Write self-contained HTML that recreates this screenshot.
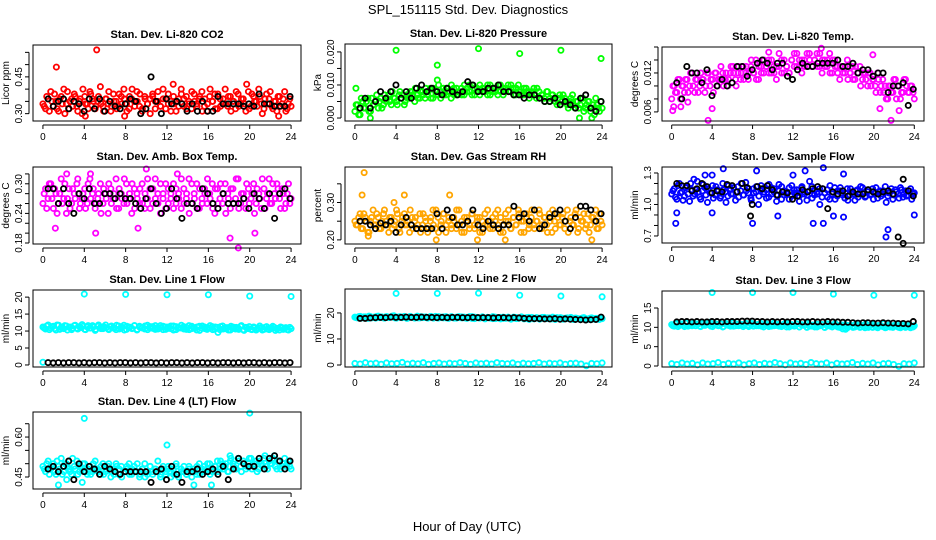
<!DOCTYPE html>
<html><head><meta charset="utf-8"><title>SPL_151115 Std. Dev. Diagnostics</title>
<style>
html,body{margin:0;padding:0;background:#fff;}
svg{display:block;font-family:"Liberation Sans",Arial,sans-serif;}
.pt{fill:none;stroke-width:1.8;}
</style></head>
<body>
<svg id="chart" width="936" height="540" viewBox="0 0 936 540">
<text x="468" y="14" text-anchor="middle" font-size="13">SPL_151115  Std. Dev. Diagnostics</text>
<text x="467" y="531" text-anchor="middle" font-size="13">Hour of Day (UTC)</text>
</svg>
<script>
// ---------- data ----------
const xTicks = [0,4,8,12,16,20,24];

const co2Vals = [0.34,0.32,0.36,0.39,0.33,0.35,0.31,0.37,0.40,0.34,0.32,0.36,0.38,0.33,0.35,0.30,0.37,0.34,0.39,0.36,0.32,0.35,0.41,0.33,0.36,0.34,0.31,0.38,0.35,0.33,0.37,0.40,0.34,0.32,0.36,0.35,0.39,0.33,0.31,0.37,0.34,0.36,0.38,0.32,0.35,0.33,0.40,0.36,0.34,0.31,0.37,0.35,0.33,0.38,0.36,0.32,0.34,0.39,0.35,0.33,0.37,0.31,0.36,0.34,0.40,0.35,0.32,0.38,0.33,0.36,0.34,0.37,0.31,0.35,0.39,0.33,0.36,0.34,0.42,0.32,0.38,0.35,0.33,0.37,0.30,0.36,0.34,0.39,0.32,0.35,0.37,0.33,0.36,0.31,0.34,0.33];
const co2Vals2 = [0.33,0.37,0.31,0.35,0.38,0.32,0.36,0.34,0.30,0.39,0.35,0.33,0.37,0.31,0.36,0.40,0.34,0.32,0.38,0.35,0.33,0.37,0.34,0.31,0.36,0.39,0.33,0.35,0.32,0.38,0.34,0.36,0.31,0.37,0.40,0.33,0.35,0.38,0.32,0.36,0.34,0.30,0.37,0.35,0.39,0.33,0.36,0.32,0.38,0.35,0.34,0.31,0.36,0.40,0.33,0.37,0.35,0.32,0.38,0.34,0.36,0.39,0.33,0.31,0.37,0.35,0.38,0.32,0.36,0.34,0.40,0.33,0.37,0.35,0.32,0.38,0.34,0.36,0.31,0.39,0.33,0.37,0.35,0.40,0.34,0.32,0.38,0.36,0.33,0.35,0.31,0.37,0.34,0.39,0.32,0.36];
const co2Black = [0.36,0.33,0.35,0.36,0.32,0.35,0.34,0.31,0.36,0.32,0.36,0.31,0.35,0.33,0.32,0.34,0.36,0.35,0.30,0.32,0.45,0.35,0.30,0.36,0.34,0.35,0.34,0.31,0.34,0.31,0.35,0.31,0.31,0.37,0.34,0.34,0.34,0.34,0.33,0.34,0.33,0.38,0.34,0.34,0.33,0.33,0.33,0.37];
const co2OutHours = [5.2,1.3,4.1,7.9,12.6,22.8];
const co2OutVals = [0.56,0.49,0.29,0.29,0.42,0.29];

const presVals = [0.002,0.004,0.001,0.005,0.003,0.006,0.002,0.004,0.005,0.003,0.006,0.004,0.005,0.007,0.004,0.006,0.005,0.007,0.006,0.004,0.007,0.006,0.008,0.005,0.007,0.006,0.008,0.006,0.007,0.009,0.006,0.008,0.007,0.006,0.009,0.007,0.008,0.006,0.009,0.007,0.008,0.009,0.007,0.008,0.010,0.007,0.009,0.008,0.007,0.009,0.008,0.010,0.007,0.009,0.008,0.010,0.008,0.007,0.009,0.008,0.010,0.007,0.009,0.008,0.007,0.009,0.008,0.006,0.008,0.007,0.009,0.006,0.007,0.005,0.008,0.006,0.007,0.005,0.006,0.004,0.007,0.005,0.003,0.006,0.004,0.005,0.003,0.006,0.002,0.004,0.005,0.003,0.001,0.004,0.002,0.003];
const presVals2 = [0.004,0.001,0.006,0.003,0.005,0.002,0.006,0.004,0.007,0.005,0.003,0.007,0.006,0.005,0.008,0.006,0.004,0.008,0.007,0.005,0.006,0.008,0.007,0.009,0.006,0.008,0.007,0.009,0.008,0.006,0.009,0.007,0.010,0.008,0.007,0.009,0.008,0.010,0.007,0.009,0.008,0.007,0.010,0.009,0.008,0.010,0.007,0.009,0.010,0.008,0.009,0.007,0.010,0.008,0.009,0.007,0.010,0.009,0.008,0.010,0.008,0.009,0.007,0.010,0.008,0.007,0.009,0.008,0.007,0.009,0.006,0.008,0.007,0.006,0.008,0.005,0.007,0.006,0.004,0.007,0.005,0.006,0.004,0.005,0.007,0.003,0.005,0.004,0.006,0.003,0.005,0.002,0.004,0.006,0.003,0.005];
const presBlack = [0.003,0.006,0.003,0.005,0.008,0.006,0.008,0.010,0.006,0.008,0.006,0.009,0.010,0.008,0.009,0.008,0.007,0.009,0.008,0.007,0.008,0.011,0.010,0.008,0.008,0.009,0.009,0.010,0.008,0.008,0.007,0.007,0.006,0.007,0.007,0.006,0.005,0.005,0.006,0.004,0.005,0.004,0.003,0.006,0.007,0.003,0.002,0.005];
const presOutHours = [4,12,16,20,23.9,8,8,0.1,1.5,21.8,23];
const presOutVals = [0.0205,0.021,0.0195,0.0205,0.018,0.016,0.0115,0.009,0.000,0.000,0.000];

const ltempVals = [0.008,0.010,0.009,0.011,0.010,0.009,0.011,0.010,0.012,0.009,0.011,0.010,0.011,0.009,0.012,0.010,0.011,0.012,0.010,0.011,0.012,0.011,0.010,0.012,0.013,0.011,0.012,0.011,0.013,0.012,0.011,0.013,0.012,0.014,0.011,0.013,0.012,0.013,0.014,0.012,0.013,0.011,0.013,0.014,0.012,0.013,0.012,0.014,0.013,0.015,0.013,0.014,0.013,0.015,0.014,0.013,0.014,0.013,0.015,0.014,0.013,0.014,0.012,0.014,0.013,0.012,0.013,0.012,0.013,0.011,0.012,0.011,0.013,0.012,0.010,0.012,0.011,0.012,0.010,0.011,0.009,0.011,0.010,0.009,0.008,0.010,0.009,0.011,0.008,0.010,0.009,0.011,0.010,0.009,0.010,0.008];
const ltempVals2 = [0.010,0.009,0.011,0.008,0.010,0.011,0.009,0.012,0.010,0.011,0.009,0.012,0.011,0.010,0.012,0.011,0.009,0.012,0.011,0.013,0.010,0.012,0.011,0.013,0.012,0.010,0.013,0.012,0.011,0.013,0.012,0.014,0.012,0.011,0.013,0.012,0.014,0.013,0.012,0.014,0.012,0.013,0.015,0.012,0.014,0.013,0.012,0.014,0.015,0.013,0.014,0.012,0.014,0.013,0.015,0.013,0.014,0.015,0.013,0.012,0.014,0.013,0.015,0.012,0.014,0.013,0.011,0.013,0.012,0.014,0.012,0.013,0.011,0.012,0.013,0.011,0.012,0.010,0.012,0.011,0.010,0.012,0.009,0.011,0.010,0.008,0.010,0.009,0.011,0.010,0.008,0.009,0.011,0.009,0.010,0.009];
const ltempBlack = [0.0105,0.008,0.013,0.012,0.012,0.0105,0.0125,0.0085,0.010,0.011,0.010,0.0105,0.013,0.013,0.0115,0.0125,0.0135,0.014,0.0135,0.0125,0.0135,0.0135,0.0115,0.011,0.0125,0.0135,0.013,0.013,0.0135,0.0135,0.0135,0.0135,0.014,0.013,0.013,0.0135,0.012,0.0125,0.0125,0.0115,0.012,0.012,0.009,0.010,0.010,0.0105,0.007,0.0095];
const ltempOutHours = [0.1,0.2,0.9,1.6,3.6,4.0,9.6,14.8,19.9,20.6,21.7,22.5];
const ltempOutVals = [0.0062,0.0068,0.0068,0.0075,0.0047,0.0065,0.0152,0.0158,0.0148,0.0065,0.0047,0.0062];

const ambVals = [0.26,0.29,0.27,0.30,0.25,0.28,0.26,0.31,0.27,0.24,0.29,0.26,0.28,0.30,0.25,0.27,0.29,0.26,0.31,0.28,0.25,0.27,0.30,0.26,0.28,0.24,0.29,0.27,0.31,0.25,0.28,0.26,0.30,0.27,0.24,0.29,0.28,0.26,0.30,0.25,0.27,0.29,0.26,0.31,0.28,0.24,0.27,0.30,0.26,0.28,0.25,0.29,0.27,0.31,0.26,0.28,0.24,0.30,0.27,0.25,0.29,0.26,0.28,0.31,0.27,0.25,0.29,0.26,0.30,0.28,0.24,0.27,0.29,0.26,0.31,0.25,0.28,0.27,0.30,0.26,0.28,0.24,0.29,0.27,0.31,0.25,0.28,0.26,0.30,0.27,0.29,0.25,0.28,0.26,0.30,0.27];
const ambVals2 = [0.28,0.25,0.30,0.27,0.29,0.24,0.28,0.26,0.30,0.27,0.25,0.29,0.27,0.31,0.26,0.28,0.25,0.30,0.27,0.29,0.26,0.28,0.24,0.29,0.27,0.30,0.26,0.28,0.25,0.29,0.27,0.31,0.26,0.28,0.30,0.25,0.27,0.29,0.26,0.28,0.31,0.25,0.29,0.27,0.26,0.30,0.28,0.25,0.29,0.27,0.30,0.26,0.28,0.25,0.29,0.27,0.31,0.26,0.28,0.30,0.25,0.27,0.29,0.26,0.28,0.30,0.24,0.29,0.27,0.26,0.30,0.28,0.25,0.29,0.27,0.31,0.26,0.28,0.25,0.29,0.27,0.30,0.26,0.28,0.25,0.29,0.27,0.31,0.26,0.28,0.30,0.27,0.29,0.25,0.28,0.26];
const ambBlack = [0.29,0.29,0.26,0.29,0.26,0.24,0.28,0.27,0.29,0.26,0.26,0.28,0.28,0.27,0.28,0.27,0.27,0.26,0.25,0.27,0.29,0.26,0.24,0.25,0.29,0.27,0.23,0.26,0.26,0.25,0.29,0.28,0.26,0.25,0.28,0.26,0.26,0.26,0.27,0.25,0.28,0.27,0.25,0.28,0.23,0.28,0.29,0.27];
const ambOutHours = [10,2.3,4.6,18.1,18.9,1.2,5.1,20.5,9.2,13.0];
const ambOutVals = [0.33,0.32,0.32,0.19,0.17,0.21,0.20,0.20,0.21,0.32];

const rhVals = [0.25,0.24,0.27,0.23,0.26,0.22,0.25,0.28,0.24,0.26,0.23,0.27,0.25,0.22,0.26,0.24,0.28,0.23,0.25,0.27,0.24,0.22,0.26,0.25,0.23,0.27,0.24,0.26,0.22,0.25,0.28,0.23,0.26,0.24,0.27,0.22,0.25,0.24,0.26,0.23,0.28,0.25,0.22,0.26,0.24,0.27,0.23,0.25,0.26,0.22,0.24,0.28,0.25,0.23,0.27,0.24,0.26,0.22,0.25,0.28,0.23,0.26,0.24,0.27,0.25,0.22,0.26,0.24,0.28,0.23,0.25,0.27,0.24,0.26,0.22,0.25,0.28,0.23,0.26,0.24,0.27,0.25,0.22,0.26,0.24,0.28,0.23,0.25,0.27,0.24,0.22,0.26,0.25,0.23,0.27,0.24];
const rhVals2 = [0.24,0.26,0.23,0.27,0.25,0.22,0.26,0.24,0.27,0.23,0.25,0.28,0.24,0.26,0.23,0.25,0.27,0.22,0.26,0.24,0.25,0.28,0.23,0.26,0.24,0.22,0.27,0.25,0.23,0.26,0.24,0.28,0.22,0.25,0.27,0.24,0.26,0.23,0.25,0.28,0.24,0.22,0.26,0.25,0.23,0.27,0.24,0.26,0.22,0.25,0.27,0.24,0.23,0.26,0.25,0.28,0.22,0.24,0.27,0.25,0.23,0.26,0.24,0.28,0.22,0.25,0.27,0.23,0.26,0.24,0.25,0.28,0.23,0.26,0.24,0.27,0.22,0.25,0.27,0.24,0.26,0.23,0.28,0.25,0.24,0.27,0.22,0.26,0.25,0.23,0.27,0.24,0.26,0.28,0.23,0.25];
const rhBlack = [0.25,0.25,0.24,0.23,0.245,0.24,0.25,0.22,0.24,0.26,0.24,0.23,0.23,0.23,0.23,0.27,0.23,0.28,0.26,0.24,0.24,0.25,0.28,0.24,0.23,0.25,0.24,0.23,0.24,0.24,0.29,0.26,0.27,0.25,0.28,0.23,0.24,0.26,0.27,0.28,0.25,0.23,0.26,0.29,0.29,0.28,0.25,0.27];
const rhOutHours = [0.9,0.7,4.8,3.8,7.9,9.2,14.6,23.0,11.9,1.3];
const rhOutVals = [0.38,0.32,0.32,0.30,0.20,0.32,0.20,0.20,0.20,0.21];

const flowVals = [1.10,1.15,1.05,1.20,1.12,1.08,1.17,1.03,1.14,1.10,1.22,1.07,1.13,1.16,1.02,1.11,1.18,1.09,1.14,1.06,1.20,1.12,1.08,1.15,1.10,1.04,1.17,1.13,1.09,1.21,1.11,1.06,1.15,1.12,1.00,1.18,1.10,1.14,1.07,1.16,1.12,1.09,1.19,1.05,1.13,1.10,1.16,1.08,1.14,1.11,1.03,1.17,1.12,1.09,1.22,1.06,1.14,1.10,1.00,1.15,1.11,1.07,1.18,1.12,1.05,1.13,1.16,1.09,1.11,1.04,1.15,1.10,1.13,1.07,1.17,1.11,1.08,1.14,1.10,1.05,1.16,1.12,1.08,1.13,1.02,1.11,1.15,1.09,1.12,1.06,1.14,1.10,1.08,1.13,1.05,1.11];
const flowVals2 = [1.13,1.07,1.18,1.11,1.04,1.16,1.10,1.20,1.08,1.14,1.12,1.05,1.19,1.09,1.15,1.11,1.06,1.17,1.13,1.08,1.14,1.02,1.18,1.10,1.16,1.12,1.07,1.20,1.09,1.13,1.15,1.04,1.11,1.17,1.08,1.14,1.12,1.06,1.19,1.10,1.15,1.03,1.13,1.17,1.09,1.12,1.05,1.18,1.11,1.14,1.08,1.16,1.10,1.04,1.13,1.17,1.09,1.12,1.15,1.07,1.11,1.14,1.05,1.10,1.16,1.08,1.13,1.11,1.06,1.15,1.09,1.12,1.04,1.14,1.10,1.16,1.07,1.12,1.09,1.15,1.11,1.06,1.13,1.10,1.17,1.08,1.12,1.05,1.14,1.10,1.16,1.07,1.13,1.09,1.15,1.10];
const flowBlack = [1.20,1.18,1.18,1.13,1.15,1.20,1.17,1.11,1.13,1.12,1.19,1.18,1.12,1.20,1.16,1.00,1.17,1.15,1.18,1.14,1.09,1.12,1.11,1.05,1.08,1.14,1.12,1.15,1.17,1.15,0.96,1.12,1.10,1.13,1.08,1.12,1.10,1.10,1.14,1.12,1.10,1.12,1.13,1.10,0.69,1.24,1.13,1.08];
const flowOutHours = [0.5,0.4,4,4,3.3,5.1,8,8.4,10.5,12,13.2,14,15,15,16,17,17,21.4,21.2,24,2.2];
const flowOutVals = [0.92,0.82,1.28,0.92,1.28,1.34,0.82,1.32,0.89,1.28,1.32,0.82,0.82,1.35,0.89,1.29,0.88,0.76,0.69,0.90,1.24];
const flowBlackOutHours = [22.9,7.8];
const flowBlackOutVals = [0.63,0.89];

const l1Band = [11.2,10.6,11.8,10.9,11.4,10.3,11.7,11.0,10.7,11.5,11.1,10.4,11.6,10.8,11.3,11.9,10.5,11.2,10.9,11.6,10.2,11.4,11.0,10.7,11.8,10.6,11.3,11.1,10.4,11.5,10.9,11.7,10.5,11.2,10.8,11.6,10.3,11.4,11.0,10.6,11.7,10.9,11.3,10.5,11.1,11.6,10.4,11.2,10.8,11.5,10.3,11.3,10.9,11.7,10.6,11.1,10.4,11.4,10.8,11.2,10.2,11.5,10.7,11.0,11.6,10.4,11.2,9.6,11.3,10.6,11.0,10.3,11.4,10.8,11.1,10.5,11.6,10.2,10.9,11.3,10.4,11.0,10.7,11.5,10.3,11.1,10.6,10.9,11.4,10.2,10.8,11.2,10.5,11.0,10.3,10.7];
const l1Band2 = [10.9,11.5,10.4,11.3,10.7,11.8,10.5,11.1,11.6,10.3,11.2,10.8,11.7,10.6,11.0,11.4,10.4,11.6,10.9,11.2,10.5,11.8,10.7,11.3,11.0,10.4,11.5,10.8,11.7,10.6,11.2,10.3,11.4,11.0,10.7,11.6,10.5,11.1,10.9,11.5,10.4,11.3,10.8,11.6,10.6,11.0,11.4,10.5,11.2,10.7,11.5,10.4,11.1,10.9,11.3,10.5,11.6,10.7,11.0,10.3,11.4,10.8,11.2,10.5,10.9,11.3,10.6,11.1,10.4,11.5,10.7,11.0,10.3,11.2,10.6,10.9,11.4,10.4,11.1,10.7,10.5,11.2,10.3,10.9,11.0,10.5,11.3,10.4,10.8,11.1,10.6,10.3,11.0,10.7,10.4,11.1];
const l1Black = [0.7,0.6,0.7,0.6,0.7,0.7,0.6,0.7,0.6,0.7,0.7,0.6,0.7,0.6,0.7,0.7,0.6,0.7,0.6,0.7,0.7,0.6,0.7,0.6,0.7,0.7,0.6,0.7,0.6,0.7,0.7,0.6,0.7,0.6,0.7,0.7,0.6,0.7,0.6,0.7,0.7,0.6,0.7,0.6,0.7,0.7,0.6,0.7];
const l1OutHours = [4,8,12,16,20,24,0];
const l1OutVals = [20.9,20.8,20.7,20.7,20.3,20.2,0.8];

const l2Band = [18.4,18.1,18.7,18.2,18.5,17.9,18.6,18.3,18.0,18.8,18.4,18.1,18.6,18.2,18.5,18.9,18.0,18.4,18.2,18.7,17.9,18.5,18.3,18.0,18.8,18.1,18.5,18.3,18.0,18.6,18.2,18.7,18.0,18.4,18.1,18.6,17.9,18.5,18.2,18.0,18.6,18.1,18.4,17.9,18.2,18.6,17.8,18.3,18.0,18.5,17.7,18.3,18.0,18.6,17.8,18.2,17.7,18.4,17.9,18.2,17.6,18.4,17.8,18.1,18.5,17.7,18.2,17.5,18.3,17.8,18.1,17.6,18.3,17.9,18.1,17.7,18.4,17.5,17.9,18.2,17.6,18.0,17.8,18.3,17.5,18.0,17.7,17.9,18.2,17.4,17.8,18.1,17.6,17.9,17.5,17.8];
const l2Band2 = [18.2,18.6,18.0,18.5,18.3,18.8,18.1,18.4,18.7,18.2,18.5,18.0,18.6,18.3,18.8,18.1,18.4,18.6,18.2,18.5,18.0,18.7,18.3,18.4,18.1,18.6,18.2,18.5,18.3,18.7,18.0,18.4,18.6,18.2,18.5,18.1,18.3,18.6,18.0,18.4,18.2,18.5,18.1,18.3,18.6,17.9,18.4,18.2,18.1,18.5,17.9,18.3,18.2,17.8,18.4,18.1,18.3,17.9,18.2,18.4,17.8,18.1,18.3,17.9,18.2,18.0,17.8,18.3,18.1,17.7,18.2,18.0,17.9,18.3,17.8,18.1,17.7,18.0,18.2,17.8,18.0,17.7,18.1,17.9,17.6,18.0,17.8,17.7,18.1,17.8,17.6,18.0,17.7,17.9,17.6,17.8];
const l2Black = [17.9,17.9,18.1,18.2,18.3,18.2,18.4,18.3,18.3,18.4,18.3,18.3,18.4,18.3,18.3,18.2,18.3,18.2,18.3,18.3,18.2,18.2,18.3,18.2,18.2,18.2,18.1,18.2,18.2,18.1,18.2,18.1,17.9,17.8,17.8,17.8,17.7,17.7,17.8,17.6,17.7,17.6,17.5,17.4,17.3,17.4,17.5,18.4];
const l2Base = [0.6,0.4,0.9,0.5,0.7,0.3,0.8,0.5,0.6,1.0,0.4,0.7,0.5,0.9,0.3,0.6,0.8,0.4,0.7,0.5,0.9,0.6,0.3,0.8,0.5,0.7,0.4,0.9,0.6,0.5,0.8,0.3,0.7,0.5,0.6,0.9,0.4,0.7,0.5,0.8,0.3,0.6,0.7,0.4,-0.3,0.6,0.5,0.8];
const l2OutHours = [4,8,12,16,20,24];
const l2OutVals = [27.5,27.5,27.6,26.8,26.5,26.2];

const l3Band = [10.7,10.3,11.1,10.5,10.9,10.2,11.2,10.6,10.4,11.0,10.8,10.3,11.1,10.5,10.9,11.3,10.2,10.7,10.5,11.0,10.1,10.9,10.6,10.3,11.2,10.4,10.8,10.6,10.2,11.0,10.5,11.1,10.3,10.7,10.4,11.0,10.1,10.8,10.6,10.3,11.1,10.5,10.8,10.2,10.6,11.0,10.1,10.7,10.4,10.9,10.1,10.7,10.5,11.0,10.3,10.6,10.1,10.8,10.4,10.7,10.0,10.9,10.3,10.6,11.0,10.1,10.6,9.6,10.7,10.3,10.6,10.0,10.8,10.4,10.6,10.2,10.9,10.0,10.5,10.7,10.1,10.5,10.3,10.9,10.0,10.6,10.3,10.5,10.8,10.0,10.4,10.7,10.2,10.5,10.1,10.4];
const l3Band2 = [10.4,10.9,10.2,10.8,10.5,11.1,10.3,10.7,11.0,10.4,10.9,10.2,10.8,10.6,11.1,10.3,10.7,10.9,10.4,10.8,10.2,11.0,10.5,10.7,10.3,10.9,10.4,10.8,10.6,11.0,10.2,10.7,10.9,10.4,10.8,10.3,10.6,10.9,10.2,10.7,10.4,10.8,10.3,10.6,10.9,10.1,10.7,10.4,10.3,10.8,10.1,10.6,10.5,10.0,10.7,10.3,10.6,10.1,10.4,10.7,10.0,10.4,10.6,10.1,10.5,10.3,10.0,10.6,10.3,9.9,10.5,10.2,10.1,10.6,10.0,10.4,9.9,10.3,10.5,10.0,10.3,9.9,10.4,10.2,9.9,10.3,10.1,10.0,10.4,10.1,9.9,10.3,10.0,10.2,9.9,10.1];
const l3Black = [11.4,11.5,11.5,11.4,11.5,11.4,11.4,11.5,11.5,11.4,11.5,11.5,11.5,11.6,11.6,11.6,11.5,11.5,11.4,11.5,11.4,11.5,11.4,11.5,11.5,11.4,11.4,11.5,11.4,11.4,11.5,11.4,11.4,11.3,11.3,11.2,11.1,11.2,11.2,11.1,11.1,11.2,11.1,11.1,11.0,11.0,10.9,11.5];
const l3Base = [0.6,0.4,0.8,0.5,0.7,0.3,0.8,0.5,0.6,0.9,0.4,0.7,0.5,0.8,0.3,0.6,0.8,0.4,0.7,0.5,0.9,0.6,0.3,0.8,0.5,0.7,0.4,0.9,0.6,0.5,0.8,0.3,0.7,0.5,0.6,0.9,0.4,0.7,0.5,0.8,0.3,0.6,0.7,0.4,-0.1,0.6,0.5,0.8];
const l3OutHours = [4,8,12,16,20,24,17.2];
const l3OutVals = [19.0,19.0,19.0,18.6,18.3,18.3,9.5];

const l4Vals = [0.49,0.47,0.51,0.48,0.50,0.46,0.49,0.52,0.47,0.50,0.48,0.46,0.49,0.51,0.47,0.48,0.50,0.46,0.49,0.47,0.51,0.48,0.46,0.50,0.47,0.49,0.45,0.48,0.50,0.46,0.49,0.47,0.48,0.50,0.46,0.49,0.47,0.45,0.48,0.50,0.46,0.49,0.47,0.48,0.51,0.46,0.48,0.47,0.49,0.45,0.48,0.50,0.46,0.47,0.49,0.46,0.48,0.45,0.47,0.49,0.46,0.48,0.47,0.50,0.46,0.48,0.49,0.47,0.51,0.48,0.50,0.47,0.52,0.49,0.48,0.51,0.47,0.50,0.49,0.52,0.48,0.50,0.47,0.51,0.49,0.53,0.48,0.50,0.52,0.49,0.51,0.48,0.50,0.49,0.51,0.48];
const l4Vals2 = [0.48,0.50,0.46,0.49,0.47,0.51,0.48,0.46,0.50,0.49,0.47,0.52,0.48,0.46,0.49,0.50,0.47,0.48,0.46,0.50,0.48,0.47,0.49,0.46,0.48,0.50,0.47,0.46,0.49,0.48,0.45,0.47,0.49,0.46,0.48,0.47,0.50,0.46,0.48,0.45,0.47,0.49,0.46,0.48,0.47,0.45,0.49,0.46,0.48,0.47,0.46,0.49,0.45,0.48,0.47,0.46,0.49,0.47,0.48,0.46,0.50,0.47,0.49,0.48,0.50,0.47,0.49,0.51,0.48,0.50,0.49,0.47,0.51,0.50,0.48,0.52,0.49,0.51,0.48,0.50,0.52,0.49,0.51,0.48,0.50,0.52,0.49,0.51,0.50,0.53,0.48,0.51,0.49,0.52,0.50,0.49];
const l4Black = [0.48,0.49,0.47,0.49,0.51,0.44,0.50,0.47,0.49,0.48,0.46,0.49,0.48,0.47,0.46,0.47,0.47,0.47,0.47,0.47,0.43,0.47,0.48,0.44,0.49,0.46,0.43,0.47,0.47,0.48,0.46,0.47,0.48,0.46,0.49,0.44,0.48,0.52,0.50,0.49,0.49,0.52,0.48,0.52,0.53,0.51,0.48,0.51];
const l4OutHours = [4,20,12,1.5,3.8,16.3,14.6,18.1,2.3];
const l4OutVals = [0.67,0.69,0.57,0.42,0.43,0.42,0.42,0.53,0.44];

// ---------- layout / panel definitions ----------
const panels = [
 {key:'co2',title:'Stan. Dev. Li-820 CO2',ylab:'Licor ppm',box:[33,45,301,121],ylim:[0.27,0.58],yTicks:[0.30,0.35,0.40,0.45,0.50,0.55],yLabels:['0.30','','','0.45','',''],color:'#ff0000',main:[co2Vals,co2Vals2],black:co2Black,outH:co2OutHours,outV:co2OutVals},
 {key:'pressure',title:'Stan. Dev. Li-820 Pressure',ylab:'kPa',box:[345,44,612,121],ylim:[-0.0009,0.0224],yTicks:[0,0.005,0.010,0.015,0.020],yLabels:['0.000','','0.010','','0.020'],color:'#00ff00',main:[presVals,presVals2],black:presBlack,outH:presOutHours,outV:presOutVals},
 {key:'li-temp',title:'Stan. Dev. Li-820 Temp.',ylab:'degrees C',box:[662,47,924,121],ylim:[0.0046,0.016],yTicks:[0.006,0.008,0.010,0.012,0.014,0.016],yLabels:['0.006','','','0.012','',''],color:'#ff00ff',main:[ltempVals,ltempVals2],black:ltempBlack,outH:ltempOutHours,outV:ltempOutVals},
 {key:'amb-temp',title:'Stan. Dev. Amb. Box Temp.',ylab:'degrees C',box:[33,167,301,244],ylim:[0.178,0.334],yTicks:[0.18,0.20,0.22,0.24,0.26,0.28,0.30,0.32],yLabels:['0.18','','','0.24','','','0.30',''],color:'#ff00ff',main:[ambVals,ambVals2],black:ambBlack,outH:ambOutHours,outV:ambOutVals},
 {key:'rh',title:'Stan. Dev. Gas Stream RH',ylab:'percent',box:[345,167,612,244],ylim:[0.189,0.395],yTicks:[0.20,0.25,0.30,0.35],yLabels:['0.20','','0.30',''],color:'#ffa500',main:[rhVals,rhVals2],black:rhBlack,outH:rhOutHours,outV:rhOutVals},
 {key:'sample-flow',title:'Stan. Dev. Sample Flow',ylab:'ml/min',box:[662,167,924,243],ylim:[0.633,1.357],yTicks:[0.7,0.8,0.9,1.0,1.1,1.2,1.3],yLabels:['0.7','','','1.0','','','1.3'],color:'#0000ff',main:[flowVals,flowVals2],black:flowBlack,outH:flowOutHours,outV:flowOutVals,bOutH:flowBlackOutHours,bOutV:flowBlackOutVals},
 {key:'line1-flow',title:'Stan. Dev. Line 1 Flow',ylab:'ml/min',box:[33,290,301,367],ylim:[-0.6,22.1],yTicks:[0,5,10,15,20],yLabels:['0','5','10','15','20'],color:'#00ffff',main:[l1Band,l1Band2],black:l1Black,outH:l1OutHours,outV:l1OutVals},
 {key:'line2-flow',title:'Stan. Dev. Line 2 Flow',ylab:'ml/min',box:[345,289,612,367],ylim:[-0.77,29.2],yTicks:[0,10,20],yLabels:['0','10','20'],color:'#00ffff',main:[l2Band,l2Band2,l2Base],black:l2Black,outH:l2OutHours,outV:l2OutVals},
 {key:'line3-flow',title:'Stan. Dev. Line 3 Flow',ylab:'ml/min',box:[662,291,924,367],ylim:[-0.26,19.4],yTicks:[0,5,10,15],yLabels:['0','5','10','15'],color:'#00ffff',main:[l3Band,l3Band2,l3Base],black:l3Black,outH:l3OutHours,outV:l3OutVals},
 {key:'line4-flow',title:'Stan. Dev. Line 4 (LT) Flow',ylab:'ml/min',box:[33,412,301,489],ylim:[0.405,0.694],yTicks:[0.45,0.50,0.55,0.60,0.65],yLabels:['0.45','','','0.60',''],color:'#00ffff',main:[l4Vals,l4Vals2],black:l4Black,outH:l4OutHours,outV:l4OutVals}
];

const NS='http://www.w3.org/2000/svg';
const svg=document.getElementById('chart');
function mk(tag,attrs,parent){const e=document.createElementNS(NS,tag);for(const k in attrs)e.setAttribute(k,attrs[k]);(parent||svg).appendChild(e);return e;}

panels.forEach(p=>{
  const [x0,y0,x1,y1]=p.box;
  const pad=(x1-x0)*0.04/1.08;
  const xs=h=>x0+pad+(h/24)*(x1-x0-2*pad);
  const ys=v=>y1-(v-p.ylim[0])/(p.ylim[1]-p.ylim[0])*(y1-y0);
  const g=mk('g',{});
  
  

  const t=mk('text',{x:(x0+x1)/2,y:y0-7,'text-anchor':'middle','font-size':11,'font-weight':'bold'},g);
  t.textContent=p.title;
  
  

  const yl=mk('text',{x:0,y:0,'text-anchor':'middle','font-size':10,transform:`translate(${x0-24},${(y0+y1)/2}) rotate(-90)`},g);
  yl.textContent=p.ylab;
  
  

  const pts=mk('g',{},g);
  
  
  p.main.forEach((arr,k)=>{
    const h0=k%2===0?0:0.12, h1=k%2===0?24:23.88;
    arr.forEach((v,i)=>{
      const h=h0+(h1-h0)*i/(arr.length-1);
      const c=mk('circle',{cx:xs(h),cy:ys(v),r:2.6,class:'pt',stroke:p.color},pts);
      
      
    });
  });
  p.outH.forEach((h,i)=>{
    const c=mk('circle',{cx:xs(h),cy:ys(p.outV[i]),r:2.6,class:'pt',stroke:p.color},pts);
    
    
  });
  p.black.forEach((v,i)=>{
    const h=0.5+23.4*i/(p.black.length-1);
    const c=mk('circle',{cx:xs(h),cy:ys(v),r:2.6,class:'pt',stroke:'#000'},pts);
    
    
  });
  if(p.bOutH){p.bOutH.forEach((h,i)=>{
    const c=mk('circle',{cx:xs(h),cy:ys(p.bOutV[i]),r:2.6,class:'pt',stroke:'#000'},pts);
    
    
  });}

  const b=mk('rect',{x:x0,y:y0,width:x1-x0,height:y1-y0,fill:'none',stroke:'#000','stroke-width':1},g);
  
  

  const xa=mk('g',{},g);
  
  
  mk('line',{x1:xs(0),x2:xs(24),y1:y1+4,y2:y1+4,stroke:'#000'},xa);
  xTicks.forEach(h=>{
    mk('line',{x1:xs(h),x2:xs(h),y1:y1+4,y2:y1+8,stroke:'#000'},xa);
    const tl=mk('text',{x:xs(h),y:y1+19,'text-anchor':'middle','font-size':10},xa);
    tl.textContent=h;
    
    
  });

  const ya=mk('g',{},g);
  
  
  const ax=x0-4;
  mk('line',{x1:ax,x2:ax,y1:ys(p.yTicks[0]),y2:ys(p.yTicks[p.yTicks.length-1]),stroke:'#000'},ya);
  p.yTicks.forEach((v,i)=>{
    mk('line',{x1:ax-4,x2:ax,y1:ys(v),y2:ys(v),stroke:'#000'},ya);
    if(p.yLabels[i]){
      const tl=mk('text',{x:0,y:0,'text-anchor':'middle','font-size':10,transform:`translate(${ax-7},${ys(v)}) rotate(-90)`},ya);
      tl.textContent=p.yLabels[i];
      
      
    }
  });
});
</script>
</body></html>
